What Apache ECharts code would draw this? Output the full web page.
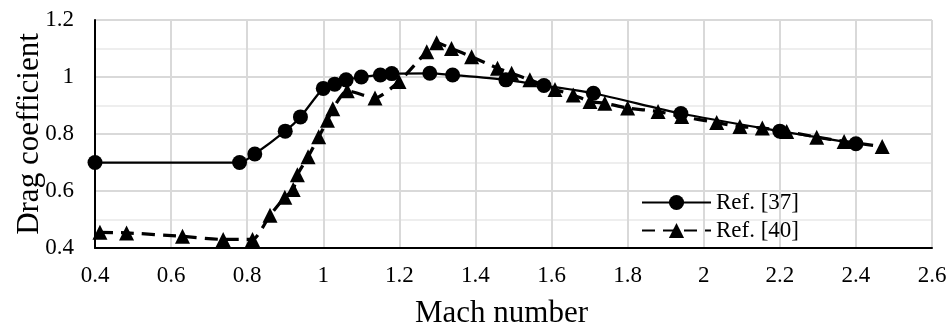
<!DOCTYPE html>
<html>
<head>
<meta charset="utf-8">
<title>Drag coefficient</title>
<script src="https://cdn.jsdelivr.net/npm/echarts@6/dist/echarts.min.js"></script>
<style>
  html, body { margin: 0; padding: 0; background: #fff; }
  #chart { width: 949px; height: 325px; }
</style>
</head>
<body>
<div id="chart"></div>
<script>
// Ref. [37] - circles, solid line
const mach37 = [0.4, 0.78, 0.82, 0.9, 0.94, 1.0, 1.03, 1.06, 1.1, 1.15, 1.18, 1.28, 1.34, 1.48, 1.58, 1.71, 1.94, 2.2, 2.4];
const cd37 = [0.70, 0.70, 0.73, 0.81, 0.86, 0.96, 0.975, 0.99, 1.0, 1.007, 1.012, 1.013, 1.007, 0.99, 0.97, 0.943, 0.872, 0.81, 0.766];

// Ref. [40] - triangles, dashed line
const mach40 = [0.413, 0.483, 0.63, 0.737, 0.814, 0.86, 0.899, 0.921, 0.932, 0.96, 0.988, 1.011, 1.025, 1.063,
  1.136, 1.199, 1.272, 1.298, 1.337, 1.39, 1.458, 1.495, 1.543, 1.609, 1.657, 1.701, 1.74, 1.80, 1.88, 1.942,
  2.034, 2.095, 2.154, 2.218, 2.297, 2.369, 2.469];
const cd40 = [0.455, 0.453, 0.441, 0.43, 0.43, 0.515, 0.578, 0.605, 0.657, 0.72, 0.79, 0.848, 0.889, 0.952,
  0.926, 0.984, 1.089, 1.12, 1.1, 1.071, 1.031, 1.013, 0.99, 0.956, 0.937, 0.914, 0.908, 0.891, 0.879, 0.861,
  0.84, 0.826, 0.821, 0.809, 0.789, 0.774, 0.756];

const seriesNames = ['Ref. [37]', 'Ref. [40]'];

const font = "'Liberation Serif', 'Times New Roman', serif";

function pairs(xs, ys) {
  return xs.map(function (x, i) { return [x, ys[i]]; });
}

const chart = echarts.init(document.getElementById('chart'));

const options = {
  backgroundColor: '#fff',
  animation: false,
  // keep the plot box where it is, labels may stick out
  grid: { left: 95, right: 17, top: 20, bottom: 77, outerBoundsMode: 'none' },
  legend: {
    orient: 'vertical',
    left: 641,
    top: 191,
    padding: 0,
    itemWidth: 69,
    itemHeight: 19,
    itemGap: 5,
    textStyle: { fontFamily: font, fontSize: 23, color: '#000' },
    data: seriesNames
  },
  xAxis: {
    type: 'value',
    min: 0.4,
    max: 2.6,
    interval: 0.2,
    name: 'Mach number',
    nameLocation: 'middle',
    nameGap: 50,
    nameMoveOverlap: false,
    // title sits a bit left of the plot centre in the original
    nameTextStyle: { fontFamily: font, fontSize: 31, color: '#000', padding: [0, 24, 0, 0] },
    axisLine: { onZero: false, lineStyle: { color: '#000', width: 2 } },
    axisTick: { show: false },
    axisLabel: { fontFamily: font, fontSize: 23, color: '#000', margin: 16 },
    splitLine: { show: true, lineStyle: { color: '#d9d9d9', width: 2 } }
  },
  yAxis: {
    type: 'value',
    min: 0.4,
    max: 1.2,
    interval: 0.2,
    name: 'Drag coefficient',
    nameLocation: 'middle',
    nameGap: 50,
    nameMoveOverlap: false,
    nameTextStyle: { fontFamily: font, fontSize: 31, color: '#000' },
    axisLine: { show: true, onZero: false, lineStyle: { color: '#000', width: 2 } },
    axisTick: { show: false },
    axisLabel: { fontFamily: font, fontSize: 23, color: '#000', margin: 21 },
    splitLine: { show: true, lineStyle: { color: '#d9d9d9', width: 2 } },
    minorTick: { show: false, splitNumber: 2 },
    minorSplitLine: { show: true, lineStyle: { color: '#eeeeee', width: 2 } }
  },
  series: [
    {
      name: seriesNames[0],
      type: 'line',
      data: pairs(mach37, cd37),
      smooth: 0.25,
      symbol: 'circle',
      symbolSize: 15,
      itemStyle: { color: '#000' },
      lineStyle: { color: '#000', width: 2.25 },
      z: 3
    },
    {
      name: seriesNames[1],
      type: 'line',
      data: pairs(mach40, cd40),
      smooth: 0.2,
      symbol: 'triangle',
      symbolSize: 15,
      itemStyle: { color: '#000' },
      lineStyle: { color: '#000', width: 3.25, type: [13, 8] },
      z: 2
    }
  ]
};

chart.setOption(options);
</script>
</body>
</html>
